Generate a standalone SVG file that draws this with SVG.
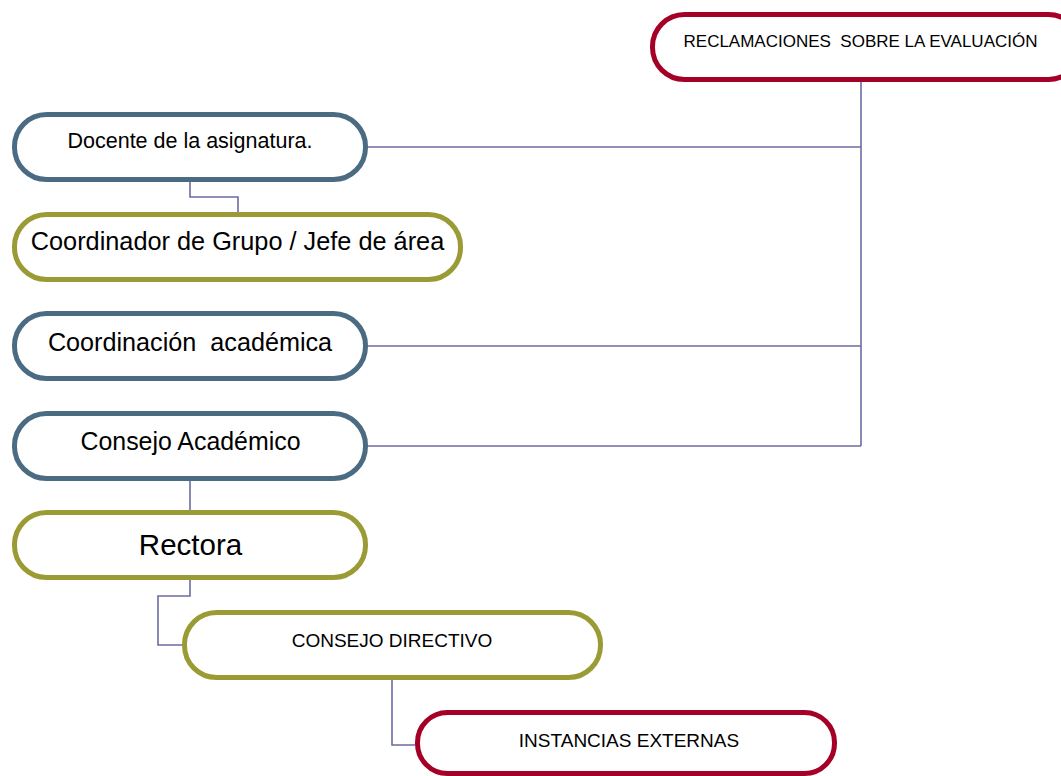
<svg xmlns="http://www.w3.org/2000/svg" width="1061" height="776" viewBox="0 0 1061 776">
<style>
.bg{fill:#ffffff}
.conn{fill:none;stroke:#6B6BA3;stroke-width:1.6}
.box{fill:#ffffff;stroke-width:5}
.blue{stroke:#4B6B82}
.olive{stroke:#9B9B36}
.red{stroke:#A50026}
text{font-family:"Liberation Sans",Arial,sans-serif;fill:#000000;text-anchor:middle;white-space:pre}
</style>
<rect class="bg" x="0" y="0" width="1061" height="776"/>
<g id="connectors">
<path class="conn" d="M368 147 H861"/>
<path class="conn" d="M861 82 V446"/>
<path class="conn" d="M368 346 H861"/>
<path class="conn" d="M368 446 H861"/>
<path class="conn" d="M190 182 V197 H238 V212"/>
<path class="conn" d="M190 481 V510"/>
<path class="conn" d="M190 580 V596 H158 V645 H182"/>
<path class="conn" d="M392 680 V745 H415"/>
</g>
<g id="reclamaciones">
<rect class="box red" x="652.5" y="14.5" width="428" height="65" rx="32" ry="32"/>
<text x="860.5" y="47" font-size="17" xml:space="preserve">RECLAMACIONES  SOBRE LA EVALUACIÓN</text>
</g>
<g id="docente">
<rect class="box blue" x="14.5" y="114.5" width="351" height="65" rx="32" ry="32"/>
<text x="190" y="148" font-size="21.5">Docente de la asignatura.</text>
</g>
<g id="coordinador">
<rect class="box olive" x="14.5" y="214.5" width="446" height="65" rx="32" ry="32"/>
<text x="237.5" y="250" font-size="25.3">Coordinador de Grupo / Jefe de área</text>
</g>
<g id="coordinacion">
<rect class="box blue" x="14.5" y="313.5" width="351" height="65" rx="32" ry="32"/>
<text x="190" y="351" font-size="25.2" xml:space="preserve">Coordinación  académica</text>
</g>
<g id="consejo-academico">
<rect class="box blue" x="14.5" y="413.5" width="351" height="65" rx="32" ry="32"/>
<text x="190.5" y="450" font-size="24.9">Consejo Académico</text>
</g>
<g id="rectora">
<rect class="box olive" x="14.5" y="512.5" width="351" height="65" rx="32" ry="32"/>
<text x="190.5" y="555" font-size="29.5">Rectora</text>
</g>
<g id="consejo-directivo">
<rect class="box olive" x="184.5" y="612.5" width="416" height="65" rx="32" ry="32"/>
<text x="392" y="647" font-size="19">CONSEJO DIRECTIVO</text>
</g>
<g id="instancias-externas">
<rect class="box red" x="417.5" y="712.5" width="417" height="61" rx="30" ry="30"/>
<text x="629" y="747" font-size="19">INSTANCIAS EXTERNAS</text>
</g>
</svg>
